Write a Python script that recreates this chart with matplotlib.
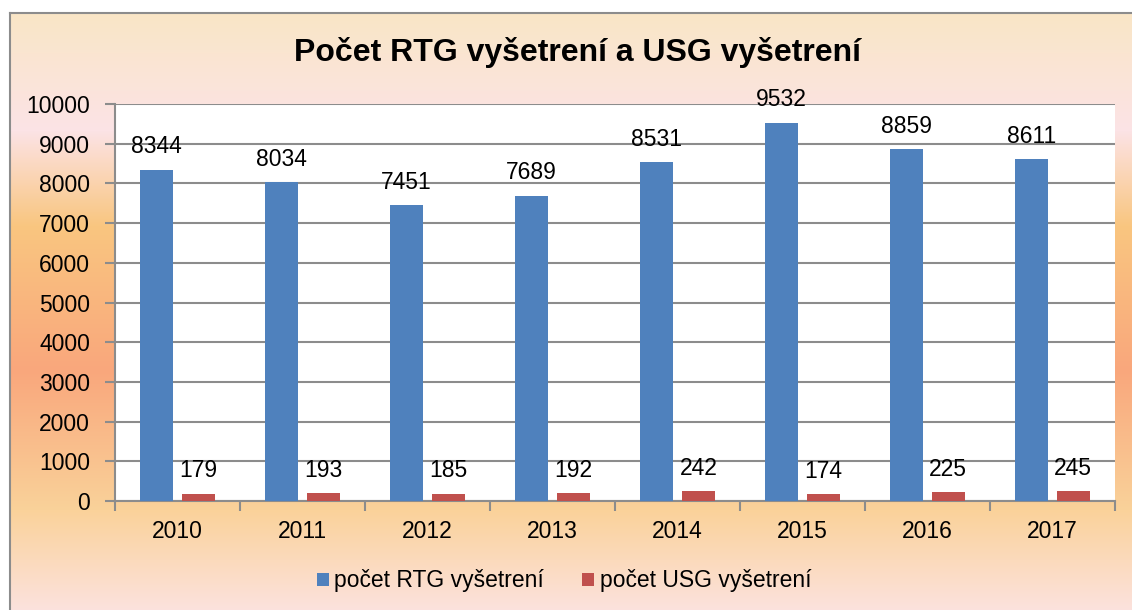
import matplotlib.pyplot as plt
import matplotlib.colors as mcolors
import numpy as np

# Data
years = ["2010", "2011", "2012", "2013", "2014", "2015", "2016", "2017"]
rtg = [8344, 8034, 7451, 7689, 8531, 9532, 8859, 8611]
usg = [179, 193, 185, 192, 242, 174, 225, 245]
series_names = ["počet RTG vyšetrení", "počet USG vyšetrení"]
title = "Počet RTG vyšetrení a USG vyšetrení"

# Background gradient stops (pixel row from top, colour)
bg_stops = [(13, "#F9E6C6"), (130, "#FCE3E6"), (225, "#F9C680"),
            (370, "#F9A77C"), (510, "#FAD29A"), (610, "#FCE2DE")]


def background(fig):
    W, H = 1132, 610
    bg = fig.add_axes([10 / W, 0, 1 - 10 / W, (H - 13) / H], zorder=-10)
    rows = np.arange(13, H)
    ys = [s[0] for s in bg_stops]
    cols = np.array([mcolors.to_rgb(s[1]) for s in bg_stops])
    img = np.stack([np.interp(rows, ys, cols[:, i]) for i in range(3)], axis=-1)
    bg.imshow(img[:, None, :], aspect="auto", extent=[0, 1, 0, 1])
    bg.set_xticks([])
    bg.set_yticks([])
    for side in ["right", "bottom"]:
        bg.spines[side].set_visible(False)
    for side in ["left", "top"]:
        bg.spines[side].set_color("#8c8c8c")
        bg.spines[side].set_linewidth(1.5)


def main():
    plt.rcParams["font.family"] = ["Liberation Sans", "DejaVu Sans"]
    W, H = 1132, 610
    fig = plt.figure(figsize=(W / 100, H / 100), dpi=100)
    background(fig)

    ax = fig.add_axes([115 / W, (H - 501) / H, 1000 / W, 397 / H])
    ax.set_facecolor("white")

    x = np.arange(len(years))
    bw = 0.264
    fs = 16.5
    b1 = ax.bar(x - 0.167, rtg, bw, color="#4F81BD", label=series_names[0], zorder=3)
    b2 = ax.bar(x + 0.167, usg, bw, color="#C0504D", label=series_names[1], zorder=3)

    for bars, vals in [(b1, rtg), (b2, usg)]:
        for rect, v in zip(bars, vals):
            ax.annotate(str(v), (rect.get_x() + rect.get_width() / 2, v),
                        xytext=(0, 16.5), textcoords="offset points",
                        ha="center", va="center", fontsize=fs, zorder=4,
                        annotation_clip=False)

    ax.set_xlim(-0.5, len(years) - 0.5)
    ax.set_ylim(0, 10000)
    ax.set_yticks(np.arange(0, 10001, 1000))
    ax.yaxis.grid(True, color="#8c8c8c", linewidth=1.5, zorder=0)
    ax.set_axisbelow(True)

    # categories labelled at centres, ticks at boundaries
    ax.set_xticks(x)
    ax.set_xticklabels(years)
    ax.set_xticks(np.arange(-0.5, len(years)), minor=True)
    ax.tick_params(axis="x", which="major", length=0, pad=14, labelsize=fs)
    ax.tick_params(axis="x", which="minor", length=7, width=1.5, color="#8c8c8c")
    ax.tick_params(axis="y", length=7, width=1.5, color="#8c8c8c", pad=11, labelsize=fs)

    for side in ["top", "right"]:
        ax.spines[side].set_visible(False)
    for side in ["left", "bottom"]:
        ax.spines[side].set_color("#8c8c8c")
        ax.spines[side].set_linewidth(1.5)

    fig.text(578 / W, 1 - 52 / H, title, ha="center", va="center",
             fontsize=23, fontweight="bold")

    fig.legend(handles=[b1, b2], loc="center", bbox_to_anchor=(564 / W, 1 - 581 / H),
               ncol=2, frameon=False, fontsize=fs, handlelength=0.52, handleheight=0.52,
               handletextpad=0.26, columnspacing=1.65)

    fig.savefig("out.png", dpi=100)


if __name__ == "__main__":
    main()
